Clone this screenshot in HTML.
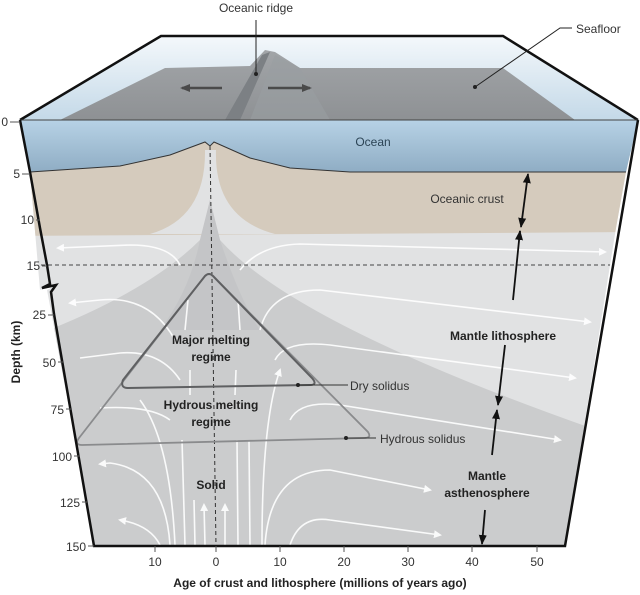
<!DOCTYPE html>
<html><head><meta charset="utf-8"><style>
html,body{margin:0;padding:0;background:#fff;}
svg{display:block;font-family:"Liberation Sans",sans-serif;}
</style></head><body>
<svg width="640" height="595" viewBox="0 0 640 595" xmlns="http://www.w3.org/2000/svg">
<defs>
<linearGradient id="wall" x1="0" y1="0" x2="0" y2="1"><stop offset="0" stop-color="#f4f8fb"/><stop offset="1" stop-color="#c4d9e8"/></linearGradient>
<linearGradient id="ocean" x1="0" y1="0" x2="0" y2="1"><stop offset="0" stop-color="#b7d2e6"/><stop offset="1" stop-color="#8fadc4"/></linearGradient>
<linearGradient id="sea" x1="0" y1="0" x2="0" y2="1"><stop offset="0" stop-color="#a2a5a8"/><stop offset="1" stop-color="#8e9194"/></linearGradient>
<marker id="wa" markerWidth="8" markerHeight="8" refX="6" refY="4" orient="auto" markerUnits="userSpaceOnUse"><path d="M0,0 L8,4 L0,8 z" fill="#fff"/></marker>
<marker id="ka" markerWidth="10" markerHeight="10" refX="9" refY="5" orient="auto-start-reverse" markerUnits="userSpaceOnUse"><path d="M0,1 L10,5 L0,9 z" fill="#111"/></marker>
<marker id="ga" markerWidth="10" markerHeight="10" refX="8" refY="5" orient="auto" markerUnits="userSpaceOnUse"><path d="M0,1 L10,5 L0,9 z" fill="#4a4a4a"/></marker>
<clipPath id="front"><polygon points="20,120 638,120 626,172 616,228 565,546 95,546 47,290 57,285 40,290 30,172"/></clipPath>
</defs>
<polygon points="20,120 161,36 503,36 638,120" fill="url(#wall)"/>
<polygon points="60,120 165,68 250,66 265,50 275,52 300,68 503,68 575,120" fill="url(#sea)"/>
<polygon points="225,120 262,55 270,52 240,120" fill="#7c8084"/>
<polygon points="275,55 300,68 330,120 250,120" fill="#9a9ea2" opacity="0.6"/>
<g clip-path="url(#front)">
<rect x="0" y="120" width="640" height="430" fill="#e1e2e3"/>
<polygon points="0,120 640,120 640,172 0,172" fill="url(#ocean)"/>
<path d="M0,174 L30,172 L60,170 L120,166 L170,155 L205,142 L210,146 L214,142 L250,158 L290,168 L350,172 L640,172 L640,232 L0,236 Z" fill="#d5cbbd"/>
<path d="M0,174 L30,172 L60,170 L120,166 L170,155 L205,142 L210,146 L214,142 L250,158 L290,168 L350,172 L640,172" fill="none" stroke="#333" stroke-width="1"/>
<path d="M205,150 Q206,218 150,234 L275,234 Q214,218 216,150 Z" fill="#e1e2e3"/>
<path d="M0,348 Q140,300 200,240 L210,200 L220,240 Q300,330 640,445 L640,560 L0,560 Z" fill="#cbcccd"/>
<path d="M200,240 L210,200 L220,240 Q240,300 260,330 L160,330 Q190,290 200,240 Z" fill="#c4c5c7"/>
<g fill="none" stroke="#fff" stroke-width="1.6" opacity="0.9">
<path d="M180,265 Q170,245 130,245 L58,248" marker-end="url(#wa)"/>
<path d="M240,270 Q260,245 300,244 L605,252" marker-end="url(#wa)"/>
<path d="M175,340 Q150,295 100,300 L70,303" marker-end="url(#wa)"/>
<path d="M260,330 Q270,290 320,290 L590,322" marker-end="url(#wa)"/>
<path d="M180,380 Q160,350 120,353 L80,358"/>
<path d="M275,360 Q285,340 330,345 L575,378" marker-end="url(#wa)"/>
<path d="M170,420 Q150,405 100,408"/>
<path d="M290,420 Q300,400 340,405 L560,440" marker-end="url(#wa)"/>
<path d="M170,545 Q165,470 110,463 L100,464" marker-end="url(#wa)"/>
<path d="M265,545 Q270,470 330,470 L430,490" marker-end="url(#wa)"/>
<path d="M160,545 Q150,525 120,520" marker-end="url(#wa)"/>
<path d="M290,545 Q300,515 330,520 L440,535" marker-end="url(#wa)"/>
<path d="M185,545 L182,440"/><path d="M195,545 L194,500"/><path d="M205,545 L204,505" marker-end="url(#wa)"/>
<path d="M225,545 L225,505" marker-end="url(#wa)"/><path d="M238,545 L237,440"/><path d="M250,545 L249,440"/>
<path d="M262,545 Q262,420 280,370" marker-end="url(#wa)"/>
<path d="M175,545 Q170,440 140,400"/>
<path d="M185,330 L188,300"/><path d="M240,330 L238,300"/><path d="M190,395 L190,370"/><path d="M235,395 L236,370"/>
</g>
<line x1="20" y1="265" x2="640" y2="265" stroke="#444" stroke-width="1" stroke-dasharray="4,3"/>
<line x1="210" y1="146" x2="216" y2="546" stroke="#333" stroke-width="1" stroke-dasharray="4,3"/>
</g>
<path d="M205,276 Q209,272 213,276 L368,432 Q372,438 364,438 L82,445 Q74,445 79,438 Z" fill="none" stroke="#8a8b8d" stroke-width="1.8"/>
<path d="M205,276 Q209,272 213,276 L312,378 Q318,385 310,385 L128,388 Q120,388 123,380 Z" fill="none" stroke="#5f6062" stroke-width="2"/>
<polyline points="20,120 161,36 503,36 638,120" fill="none" stroke="#111" stroke-width="2.5"/>
<line x1="20" y1="120" x2="638" y2="120" stroke="#444" stroke-width="1"/>
<polyline points="20,120 30,172 40,228 47,265 50,284 42,288 56,285 51,292 54,314 94,546 565,546 638,120" fill="none" stroke="#111" stroke-width="2.5" stroke-linejoin="miter"/>
<line x1="222" y1="88" x2="182" y2="88" stroke="#4a4a4a" stroke-width="2.5" marker-end="url(#ga)"/>
<line x1="268" y1="88" x2="310" y2="88" stroke="#4a4a4a" stroke-width="2.5" marker-end="url(#ga)"/>
<g stroke="#111" stroke-width="1.8" fill="none">
<line x1="528" y1="174" x2="521" y2="227" marker-start="url(#ka)" marker-end="url(#ka)"/>
<line x1="520" y1="231" x2="513" y2="300"/>
<line x1="520" y1="231" x2="519" y2="240" marker-start="url(#ka)"/>
<line x1="505" y1="345" x2="498" y2="405" marker-end="url(#ka)"/>
<line x1="497" y1="410" x2="492" y2="455" marker-start="url(#ka)"/>
<line x1="485" y1="510" x2="482" y2="544" marker-end="url(#ka)"/>
</g>
<line x1="256" y1="20" x2="256" y2="74" stroke="#222" stroke-width="1"/><circle cx="256" cy="74" r="2" fill="#222"/>
<polyline points="572,28 560,28 475,87" fill="none" stroke="#222" stroke-width="1"/><circle cx="475" cy="87" r="2" fill="#222"/>
<line x1="298" y1="385" x2="348" y2="385" stroke="#333" stroke-width="1"/><circle cx="298" cy="385" r="2" fill="#222"/>
<line x1="346" y1="438" x2="376" y2="438" stroke="#333" stroke-width="1"/><circle cx="346" cy="438" r="2" fill="#222"/>
<g font-size="12" fill="#333">
<text x="256" y="12" text-anchor="middle">Oceanic ridge</text>
<text x="576" y="33">Seafloor</text>
<text x="373" y="146" text-anchor="middle" fill="#2c4455">Ocean</text>
<text x="467" y="203" text-anchor="middle">Oceanic crust</text>
<text x="350" y="390">Dry solidus</text>
<text x="380" y="443">Hydrous solidus</text>
</g>
<g font-size="12" font-weight="bold" fill="#222" text-anchor="middle">
<text x="211" y="344">Major melting</text><text x="211" y="361">regime</text>
<text x="211" y="409">Hydrous melting</text><text x="211" y="426">regime</text>
<text x="211" y="489">Solid</text>
<text x="503" y="340">Mantle lithosphere</text>
<text x="487" y="480">Mantle</text><text x="487" y="497">asthenosphere</text>
<text x="320" y="587">Age of crust and lithosphere (millions of years ago)</text>
<text transform="translate(20,352) rotate(-90)">Depth (km)</text>
</g>
<g font-size="12" fill="#333" text-anchor="end">
<text x="8" y="126">0</text><text x="20" y="178">5</text><text x="34" y="224">10</text><text x="40" y="270">15</text>
<text x="46" y="319">25</text><text x="56" y="367">50</text><text x="64" y="414">75</text><text x="72" y="461">100</text>
<text x="80" y="507">125</text><text x="86" y="551">150</text>
</g>
<g stroke="#555" stroke-width="1">
<line x1="10" y1="122" x2="20" y2="122"/><line x1="22" y1="174" x2="30" y2="174"/><line x1="36" y1="220" x2="40" y2="220"/><line x1="42" y1="266" x2="47" y2="266"/>
<line x1="48" y1="315" x2="54" y2="315"/><line x1="58" y1="362" x2="63" y2="362"/><line x1="66" y1="409" x2="72" y2="409"/><line x1="74" y1="456" x2="80" y2="456"/><line x1="82" y1="502" x2="87" y2="502"/><line x1="88" y1="546" x2="94" y2="546"/>
</g>
<g font-size="12" fill="#333" text-anchor="middle">
<text x="155" y="566">10</text><text x="216" y="566">0</text><text x="280" y="566">10</text><text x="344" y="566">20</text><text x="408" y="566">30</text><text x="472" y="566">40</text><text x="537" y="566">50</text>
</g>
<g stroke="#555" stroke-width="1">
<line x1="155" y1="546" x2="155" y2="552"/><line x1="216" y1="546" x2="216" y2="552"/><line x1="280" y1="546" x2="280" y2="552"/><line x1="344" y1="546" x2="344" y2="552"/><line x1="408" y1="546" x2="408" y2="552"/><line x1="472" y1="546" x2="472" y2="552"/><line x1="537" y1="546" x2="537" y2="552"/>
</g>
</svg>
</body></html>
